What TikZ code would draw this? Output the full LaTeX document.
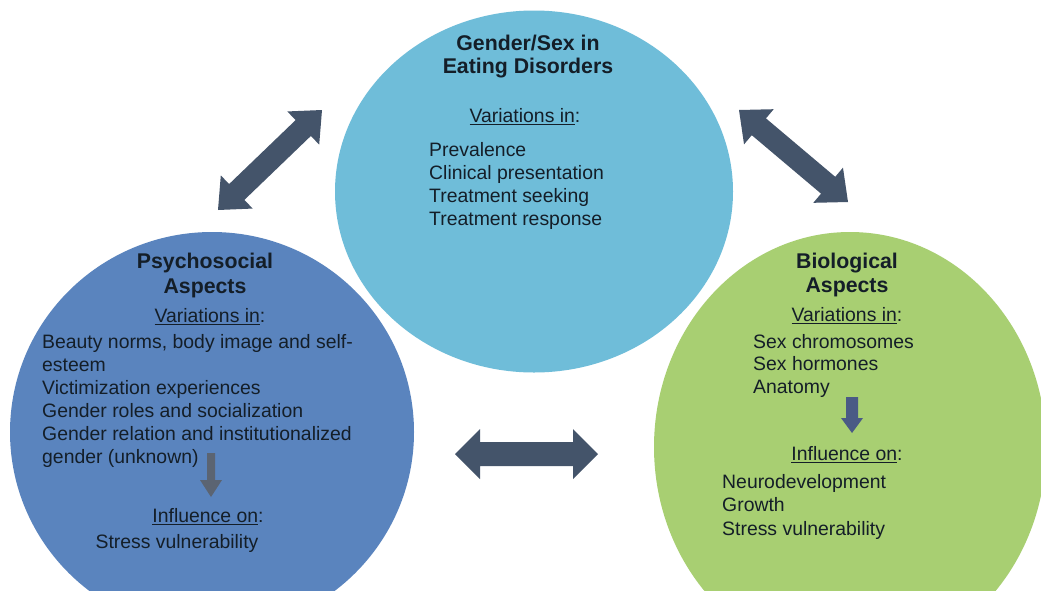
\documentclass[tikz,border=0pt]{standalone}
\usepackage{fontspec}
\setmainfont{Liberation Sans}
\usetikzlibrary{calc,shapes.geometric}
\definecolor{topc}{HTML}{6FBDD9}
\definecolor{leftc}{HTML}{5A84BE}
\definecolor{rightc}{HTML}{A8CF72}
\definecolor{arrc}{HTML}{44546A}
\definecolor{smlarrL}{HTML}{5B6472}
\definecolor{smlarrR}{HTML}{4A5A85}
\definecolor{txt}{HTML}{141E28}
\newcommand{\myul}[1]{\setbox0\hbox{#1}\rlap{\rule[-2.6pt]{\wd0}{1.1pt}}\box0}
% double block arrow between two named coordinates
\newcommand{\dblarrow}[6]{%
 \fill[#6] (#1)
  -- ($(#1)!#3!(#2)!#4!90:(#2)$)
  -- ($(#1)!#3!(#2)!#5!90:(#2)$)
  -- ($(#2)!#3!(#1)!#5!-90:(#1)$)
  -- ($(#2)!#3!(#1)!#4!-90:(#1)$)
  -- (#2)
  -- ($(#2)!#3!(#1)!#4!90:(#1)$)
  -- ($(#2)!#3!(#1)!#5!90:(#1)$)
  -- ($(#1)!#3!(#2)!#5!-90:(#2)$)
  -- ($(#1)!#3!(#2)!#4!-90:(#2)$)
  -- cycle;}
% single block arrow from tail #1 to tip #2
\newcommand{\sglarrow}[6]{%
 \fill[#6] ($(#1)!#5!90:(#2)$)
  -- ($(#2)!#3!(#1)!#5!-90:(#1)$)
  -- ($(#2)!#3!(#1)!#4!-90:(#1)$)
  -- (#2)
  -- ($(#2)!#3!(#1)!#4!90:(#1)$)
  -- ($(#2)!#3!(#1)!#5!90:(#1)$)
  -- ($(#1)!#5!-90:(#2)$)
  -- cycle;}
\tikzset{
 blob/.style={ellipse, draw=none, inner sep=0pt},
 ttl/.style={font=\bfseries\fontsize{21.3}{#1}\selectfont, text=txt, align=center, inner sep=0pt, anchor=base},
 ttl/.default=24,
 hdr/.style={font=\fontsize{19.4}{23}\selectfont, text=txt, inner sep=0pt, anchor=base},
 lst/.style={font=\fontsize{19.4}{#1}\selectfont, text=txt, align=left, inner sep=0pt, anchor=base west},
 lst/.default=23,
}
\begin{document}
\begin{tikzpicture}[x=1pt,y=-1pt]
\useasboundingbox (0,0) rectangle (1041,590);
\clip (0,0) rectangle (1041,590);
\fill[white] (0,0) rectangle (1041,590);
% circles
\node[blob, fill=leftc, minimum width=404pt, minimum height=400pt] (psy) at (212,432) {};
\node[blob, fill=rightc, minimum width=392pt, minimum height=430pt] (bio) at (850,447) {};
\node[blob, fill=topc, minimum width=398pt, minimum height=362pt] (gen) at (534,191.5) {};
% big arrows
\coordinate (ul1) at (218,210); \coordinate (ul2) at (322,110);
\coordinate (ur1) at (739,110); \coordinate (ur2) at (848,202);
\coordinate (h1) at (455,454);  \coordinate (h2) at (598,454);
\dblarrow{ul1}{ul2}{26pt}{23pt}{11pt}{arrc}
\dblarrow{ur1}{ur2}{26pt}{23pt}{11pt}{arrc}
\dblarrow{h1}{h2}{25pt}{25pt}{12pt}{arrc}
% small arrows
\coordinate (la1) at (211,453); \coordinate (la2) at (211,497);
\coordinate (ra1) at (852,397); \coordinate (ra2) at (852,433);
\sglarrow{la1}{la2}{17pt}{11pt}{4pt}{smlarrL}
\sglarrow{ra1}{ra2}{15pt}{11pt}{6pt}{smlarrR}
% top texts (multi-line nodes: base = last line)
\node[ttl=23] (gtitle) at (528,73) {Gender/Sex in\\Eating Disorders};
\node[hdr] (gvar) at (525,122) {\myul{Variations in}:};
\node[lst=22.7] (glist) at (429,225) {Prevalence\\Clinical presentation\\Treatment seeking\\Treatment response};
% left texts
\node[ttl=25] (ptitle) at (205,293) {Psychosocial\\Aspects};
\node[hdr] (pvar) at (210,322) {\myul{Variations in}:};
\node[lst=23] (plist) at (42,463) {Beauty norms, body image and self-\\esteem\\Victimization experiences\\Gender roles and socialization\\Gender relation and institutionalized\\gender (unknown)};
\node[hdr] (pinf) at (208,522) {\myul{Influence on}:};
\node[hdr] (pstress) at (177,548) {Stress vulnerability};
% right texts
\node[ttl=24] (btitle) at (847,292) {Biological\\Aspects};
\node[hdr] (bvar) at (847,321) {\myul{Variations in}:};
\node[lst=22.5] (blist) at (753,393) {Sex chromosomes\\Sex hormones\\Anatomy};
\node[hdr] (binf) at (847,460) {\myul{Influence on}:};
\node[lst=23.5] (blist2) at (722,535) {Neurodevelopment\\Growth\\Stress vulnerability};
\end{tikzpicture}
\end{document}
